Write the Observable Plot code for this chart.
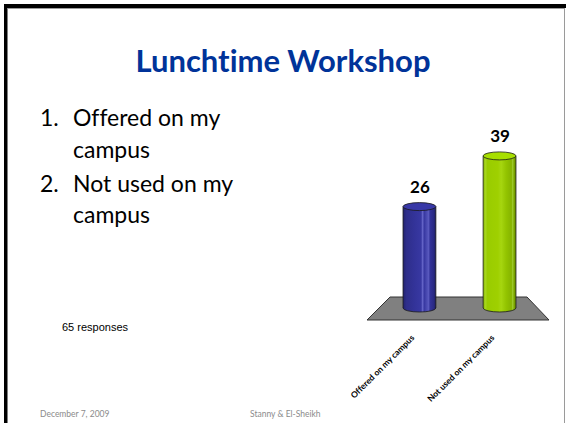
<!DOCTYPE html>
<html>
<head>
<meta charset="utf-8">
<script src="https://cdn.jsdelivr.net/npm/d3@7"></script>
<script src="https://cdn.jsdelivr.net/npm/@observablehq/plot@0.6"></script>
<style>
  html, body { margin: 0; padding: 0; background: #fff; overflow: hidden; }
  #slide { position: relative; width: 566px; height: 423px; }
  #chart, #overlay { position: absolute; left: 0; top: 0; }
  #overlay { pointer-events: none; }
  text { font-variant-ligatures: none; }
</style>
</head>
<body>
<div id="slide">
  <div id="chart"></div>
  <svg id="overlay" width="566" height="423" xmlns="http://www.w3.org/2000/svg">
    <rect x="4" y="4" width="562" height="4" fill="#000"/>
    <rect x="4" y="4" width="3.5" height="419" fill="#000"/>
    <line x1="7.5" y1="8.5" x2="565" y2="8.5" stroke="#9a9a9a" stroke-width="1"/>
    <line x1="564.5" y1="8" x2="564.5" y2="423" stroke="#9a9a9a" stroke-width="1"/>
    <text x="283" y="72" text-anchor="middle" font-family="Lato" font-weight="bold" font-size="31" fill="#003399">Lunchtime Workshop</text>
    <g font-family="Lato" font-size="23" fill="#000">
      <text x="40" y="126">1.</text><text x="73" y="126">Offered on my</text>
      <text x="73" y="158">campus</text>
      <text x="40" y="192">2.</text><text x="73" y="192">Not used on my</text>
      <text x="73" y="223">campus</text>
    </g>
    <text x="62" y="331" font-family="Liberation Sans" font-size="11" fill="#000">65 responses</text>
    <g font-family="Lato" font-size="8.5" fill="#8b8b8b">
      <text x="40" y="417">December 7, 2009</text>
      <text x="250" y="417">Stanny &amp; El-Sheikh</text>
    </g>
  </svg>
</div>
<script>
const categories = ["Offered on my campus", "Not used on my campus"];
const counts = [26, 39];
const barColors = ["#333399", "#99cc00"];

const data = categories.map((c, i) => ({category: c, count: counts[i], i}));

const chart = Plot.plot({
  width: 566,
  height: 423,
  marginLeft: 379,
  marginRight: 26,
  marginTop: 152,
  marginBottom: 115,
  style: {background: "transparent", fontFamily: "Lato"},
  x: {domain: categories, paddingInner: 0.59, paddingOuter: 0.3, round: false, axis: null},
  y: {domain: [0, 40], axis: null},
  color: {type: "identity"},
  marks: [
    Plot.barY(data, {x: "category", y: "count", fill: d => `url(#cyl${d.i})`, stroke: "#1a1a1a", strokeWidth: 0.8}),
    Plot.text(data, {x: "category", y: "count", text: d => String(d.count), dy: -20, fontSize: 17, fontWeight: "bold", fill: "#000"}),
    Plot.text(data, {x: "category", y: () => 0, text: "category", rotate: -45, textAnchor: "end", dx: -7, dy: 28, fontSize: 8.5, fontWeight: "bold", fill: "#000"})
  ]
});
document.getElementById("chart").appendChild(chart);

// 3D cylinder decorations using Plot's own scales
const svg = d3.select(chart);
const xs = chart.scale("x"), ys = chart.scale("y");
const bw = xs.bandwidth;
const y0 = ys.apply(0);
const r0 = xs.range[0], r1 = xs.range[1];

const defs = svg.append("defs");
const stopsFor = [
  [[0, "#22226e"], [0.1, "#2e2e8a"], [0.35, "#333399"], [0.55, "#3838a2"], [0.6, "#6a6acc"], [0.64, "#3636a0"], [0.78, "#5a5abf"], [0.82, "#33339a"], [0.93, "#2a2a85"], [1, "#1e1e62"]],
  [[0, "#8ab800"], [0.08, "#a8d820"], [0.12, "#99cc00"], [0.45, "#9fd000"], [0.55, "#a6d610"], [0.7, "#93c400"], [0.86, "#86b400"], [0.9, "#a0cc30"], [0.94, "#7da800"], [1, "#6a9000"]]
];
stopsFor.forEach((stops, i) => {
  const g = defs.append("linearGradient").attr("id", `cyl${i}`).attr("x1", 0).attr("x2", 1).attr("y1", 0).attr("y2", 0);
  stops.forEach(([o, c]) => g.append("stop").attr("offset", o).attr("stop-color", c));
});

// floor
svg.insert("polygon", ":first-child")
  .attr("points", [
    [r0 + 11, y0 - 11], [r1 - 13, y0 - 11], [r1 + 9, y0 + 12], [r0 - 12, y0 + 12]
  ].map(p => p.join(",")).join(" "))
  .attr("fill", "#808080")
  .attr("stroke", "#333")
  .attr("stroke-width", 1);

// only side outlines on the cylinder bodies
svg.selectAll('g[aria-label="bar"] rect').each(function () {
  const r = d3.select(this);
  const w = +r.attr("width"), h = +r.attr("height");
  r.attr("stroke-dasharray", `0 ${w} ${h} ${w} ${h}`);
});

const ry = 4;
const bottomG = svg.insert("g", 'g[aria-label="bar"]');
const topG = svg.insert("g", 'g[aria-label="text"]');
data.forEach(d => {
  const cx = xs.apply(d.category) + bw / 2;
  bottomG.append("ellipse")
    .attr("cx", cx).attr("cy", y0).attr("rx", bw / 2).attr("ry", ry)
    .attr("fill", `url(#cyl${d.i})`).attr("stroke", "#1a1a1a").attr("stroke-width", 0.8);
  topG.append("ellipse")
    .attr("cx", cx).attr("cy", ys.apply(d.count)).attr("rx", bw / 2).attr("ry", ry)
    .attr("fill", d3.color(barColors[d.i]).brighter(0.25).formatHex())
    .attr("stroke", "#1a1a1a").attr("stroke-width", 0.8);
});
</script>
</body>
</html>
